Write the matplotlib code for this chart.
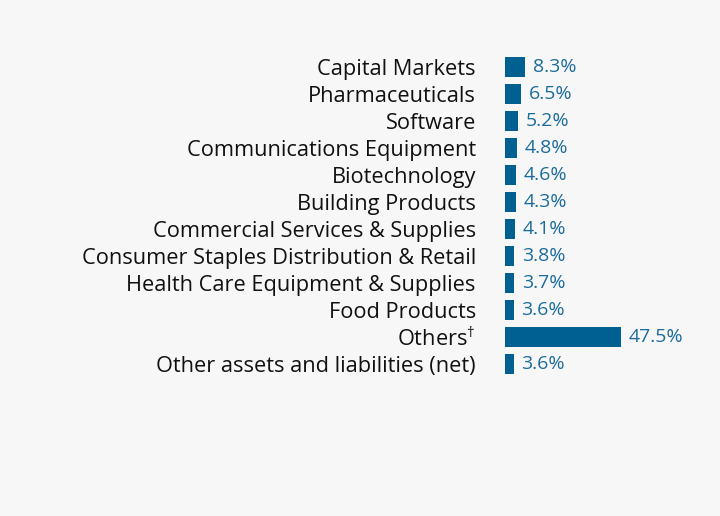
import matplotlib.pyplot as plt

categories = [
    "Capital Markets",
    "Pharmaceuticals",
    "Software",
    "Communications Equipment",
    "Biotechnology",
    "Building Products",
    "Commercial Services & Supplies",
    "Consumer Staples Distribution & Retail",
    "Health Care Equipment & Supplies",
    "Food Products",
    "Others$^{\u2020}$",
    "Other assets and liabilities (net)",
]
values = [8.3, 6.5, 5.2, 4.8, 4.6, 4.3, 4.1, 3.8, 3.7, 3.6, 47.5, 3.6]
value_labels = ["8.3%", "6.5%", "5.2%", "4.8%", "4.6%", "4.3%", "4.1%",
                "3.8%", "3.7%", "3.6%", "47.5%", "3.6%"]

bg = "#f7f7f7"
bar_color = "#00608f"
text_blue = "#1c6c9b"

plt.rcParams["font.family"] = ["Open Sans", "DejaVu Sans"]
plt.rcParams["mathtext.fontset"] = "custom"
plt.rcParams["mathtext.rm"] = "Open Sans"

W, H = 720, 516
fig = plt.figure(figsize=(W / 100, H / 100), dpi=100, facecolor=bg)

# axes placed so bars start at x=505 px and rows sit 27 px apart
left, right = 505, 700
top, bottom = 53.5, 377.5
ax = fig.add_axes([left / W, 1 - bottom / H, (right - left) / W, (bottom - top) / H])
ax.set_facecolor(bg)

px_per_pct = 116 / 47.5
ax.set_xlim(0, (right - left) / px_per_pct)
ax.set_ylim(len(categories) - 0.5, -0.5)

y = range(len(categories))
ax.barh(y, values, height=0.74, color=bar_color)

for i, (v, lab) in enumerate(zip(values, value_labels)):
    ax.annotate(lab, (v, i), xytext=(5.5, 0), textcoords="offset points",
                va="center", ha="left", fontsize=14, color=text_blue)

ax.set_yticks(list(y))
ax.set_yticklabels(categories, fontsize=15.7, color="#111111")
ax.tick_params(axis="y", length=0, pad=21)
ax.set_xticks([])
for s in ax.spines.values():
    s.set_visible(False)

fig.savefig("out.png", dpi=100, facecolor=bg)
